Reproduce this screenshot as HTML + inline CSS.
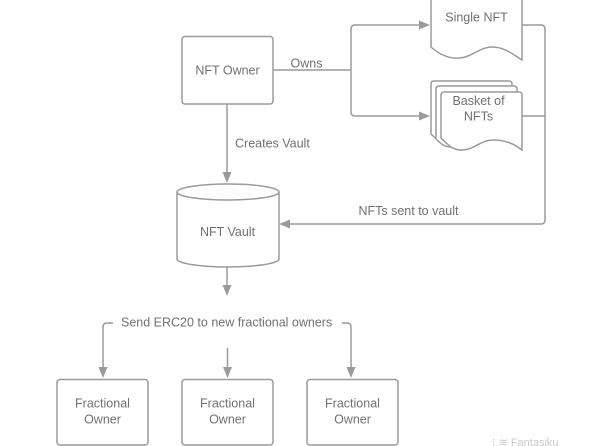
<!DOCTYPE html>
<html>
<head>
<meta charset="utf-8">
<style>
html,body{margin:0;padding:0;background:#fff;}
svg{display:block;}
text{font-family:"Liberation Sans",Arial,sans-serif;fill:#717171;font-size:12.5px;}
</style>
</head>
<body>
<svg width="600" height="446" viewBox="0 0 600 446" xmlns="http://www.w3.org/2000/svg">
  <rect width="600" height="446" fill="#fff"/>
  <g fill="none" stroke="#9a9a9a" stroke-width="1.5">
    <!-- NFT Owner box -->
    <rect x="182" y="36.5" width="91" height="67.5" rx="3" fill="#fff"/>
    <!-- Owns connectors -->
    <path d="M273,70 H351"/>
    <path d="M351,70 V29 Q351,25 355,25 H420"/>
    <path d="M351,70 V112 Q351,116 355,116 H420"/>
    <!-- Single NFT document -->
    <path d="M431,-5 V47 C440,55 450,59 460,58 C472,57 480,47 492,47 C505,47 514,55 522,60 V-5" fill="#fff"/>
    <!-- Basket of NFTs (stack) -->
    <path d="M431,134 V84 Q431,81 434,81 H509 Q512,81 512,84 V140 C504,135 495,131 482,131 C470,131 462,141 450,142 C440,143 436,139 431,134 Z" fill="#fff"/>
    <path d="M436,139 V89 Q436,86 439,86 H514 Q517,86 517,89 V145 C509,140 500,136 487,136 C475,136 467,146 455,147 C445,148 441,144 436,139 Z" fill="#fff"/>
    <path d="M441,138 V95 Q441,92 444,92 H519 Q522,92 522,95 V150 C514,144 506,140 493,140 C481,140 475,149 463,150 C453,151 447,144 441,138 Z" fill="#fff"/>
    <!-- right-side return connector -->
    <path d="M522,25 H541 Q545,25 545,29 V220 Q545,224 541,224 H289"/>
    <path d="M522,116 H545"/>
    <!-- Creates vault -->
    <path d="M227,104 V173"/>
    <!-- Vault cylinder -->
    <path d="M177,192 V259 A51,8 0 0 0 279,259 V192" fill="#fff"/>
    <ellipse cx="228" cy="192" rx="51" ry="8" fill="#fff"/>
    <!-- vault out -->
    <path d="M227,267 V286"/>
    <!-- bottom bracket -->
    <path d="M113,323 H107 Q103,323 103,327 V368"/>
    <path d="M342,323 H347 Q351,323 351,327 V368"/>
    <path d="M227.5,348 V368"/>
    <!-- fractional owner boxes -->
    <rect x="57" y="379.5" width="91" height="65.5" rx="3" fill="#fff"/>
    <rect x="182" y="379.5" width="91" height="65.5" rx="3" fill="#fff"/>
    <rect x="307" y="379.5" width="91" height="65.5" rx="3" fill="#fff"/>
  </g>
  <!-- arrowheads -->
  <g fill="#9a9a9a">
    <polygon points="430,25 419,20.5 419,29.5"/>
    <polygon points="430,116 419,111.5 419,120.5"/>
    <polygon points="227,183 222.5,172 231.5,172"/>
    <polygon points="279,224 290,219.5 290,228.5"/>
    <polygon points="227,296 222.5,285 231.5,285"/>
    <polygon points="103,378 98.5,367 107.5,367"/>
    <polygon points="227.5,378 223,367 232,367"/>
    <polygon points="351,378 346.5,367 355.5,367"/>
  </g>
  <!-- labels -->
  <text x="227.5" y="74.5" text-anchor="middle" font-size="13">NFT Owner</text>
  <text x="306.5" y="67.5" text-anchor="middle">Owns</text>
  <text x="476.5" y="21.5" text-anchor="middle" font-size="13">Single NFT</text>
  <text x="478.5" y="105" text-anchor="middle">Basket of</text>
  <text x="478.5" y="120.5" text-anchor="middle">NFTs</text>
  <text x="235" y="147.5">Creates Vault</text>
  <text x="227.5" y="236" text-anchor="middle" font-size="13">NFT Vault</text>
  <text x="408.5" y="215" text-anchor="middle">NFTs sent to vault</text>
  <text x="121" y="326.5">Send ERC20 to new fractional owners</text>
  <text x="102.5" y="407.5" text-anchor="middle">Fractional</text>
  <text x="102.5" y="423.5" text-anchor="middle">Owner</text>
  <text x="227.5" y="407.5" text-anchor="middle">Fractional</text>
  <text x="227.5" y="423.5" text-anchor="middle">Owner</text>
  <text x="352.5" y="407.5" text-anchor="middle">Fractional</text>
  <text x="352.5" y="423.5" text-anchor="middle">Owner</text>
  <!-- faint watermark -->
  <text x="492" y="446" style="fill:#c8c8c8;font-size:11px;">⁝ ≋  Fantasiku</text>
</svg>
</body>
</html>
